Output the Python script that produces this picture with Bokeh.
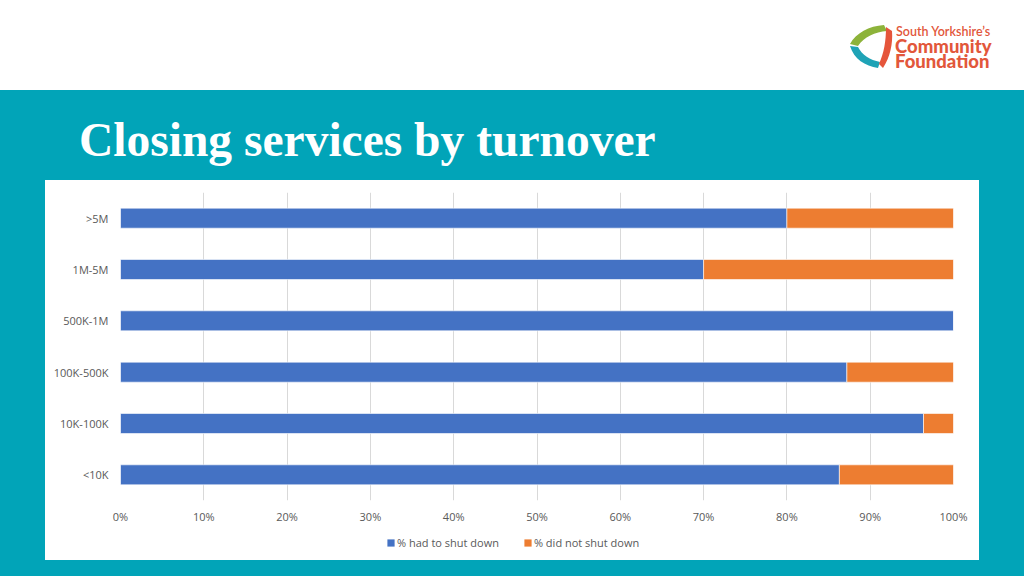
from bokeh.plotting import figure
from bokeh.models import (Range1d, FactorRange, Legend, LegendItem, FixedTicker,
                          Div, Spacer, ColumnDataSource)
from bokeh.layouts import column, row
from bokeh.embed import file_html
from bokeh.resources import INLINE

# ---------------- data ----------------
categories = ["<10K", "10K-100K", "100K-500K", "500K-1M", "1M-5M", ">5M"]
had_to_shut = [86.3, 96.4, 87.2, 100.0, 70.0, 80.0]
did_not_shut = [13.7, 3.6, 12.8, 0.0, 30.0, 20.0]
series_names = ["% had to shut down", "% did not shut down"]
tick_values = [0, 10, 20, 30, 40, 50, 60, 70, 80, 90, 100]
tick_labels = ["0%", "10%", "20%", "30%", "40%", "50%", "60%", "70%", "80%", "90%", "100%"]
title_text = "Closing services by turnover"
logo_lines = ["South Yorkshire\u2019s", "Community", "Foundation"]

# ---------------- styles ----------------
TEAL = "#01A4B8"
BLUE = "#4472C4"
ORANGE = "#ED7D31"
GREY = "#595959"
LOGO = "#E2573B"
FONT = "Open Sans"
COLORS = [BLUE, ORANGE]

src = ColumnDataSource(dict(cat=categories, had=had_to_shut, nots=did_not_shut))

# ---------------- main chart ----------------
p = figure(width=934, height=348, y_range=FactorRange(factors=categories),
           x_range=Range1d(0, 100), output_backend="svg", toolbar_location=None,
           min_border_left=75, min_border_right=26, min_border_top=12,
           min_border_bottom=28)
p.border_fill_color = "white"
p.background_fill_color = "white"
p.outline_line_color = None

rs = p.hbar_stack(["had", "nots"], y="cat", height=0.39, color=COLORS,
                  line_color="white", line_width=0.6, source=src)

p.xaxis.ticker = FixedTicker(ticks=tick_values)
p.xaxis.major_label_overrides = {v: l for v, l in zip(tick_values, tick_labels)}
for ax in (p.xaxis, p.yaxis):
    ax.axis_line_color = None
    ax.major_tick_line_color = None
    ax.minor_tick_line_color = None
    ax.major_label_text_font = FONT
    ax.major_label_text_font_size = "11px"
    ax.major_label_text_color = GREY
p.xaxis.major_label_standoff = 2
p.yaxis.major_label_standoff = 6

p.xgrid.grid_line_color = "#D9D9D9"
p.xgrid.grid_line_width = 1
p.ygrid.grid_line_color = None

# ---------------- legend strip (below the chart, inside the white panel) ----------------
lg = figure(width=934, height=32, x_range=Range1d(0, 1), y_range=Range1d(0, 1),
            output_backend="svg", toolbar_location=None, min_border=0,
            x_axis_type=None, y_axis_type=None)
lg.border_fill_color = "white"
lg.background_fill_color = "white"
lg.outline_line_color = None
lg.grid.visible = False
# zero-size key renderers: only their legend swatches are visible
key_renderers = [lg.hbar(y=[0], left=[0], right=[0], height=0, fill_color=c, line_color=None)
                 for c in COLORS]

legend = Legend(items=[LegendItem(label=n, renderers=[r])
                       for n, r in zip(series_names, key_renderers)],
                orientation="horizontal", location=(266, 10),
                glyph_width=9, glyph_height=9, label_standoff=2, spacing=24,
                label_height=14, label_text_font=FONT, label_text_font_size="11px",
                label_text_color=GREY, border_line_color=None,
                background_fill_alpha=0, margin=0, padding=0)
lg.add_layout(legend)

# ---------------- header with logo ----------------
icon_svg = (
    '<svg width="44" height="46" viewBox="0 0 44 46" '
    'style="position:absolute;left:849px;top:23px">'
    '<path d="M1,21 C7,10 20,3 35,2 L38,8 C26,9 15,14 9,23 Z" fill="#8DB33A"/>'
    '<path d="M1,23 L9,24 C13,32 21,37 31,39 L29,45 C16,43 5,36 1,23 Z" fill="#1FA3B6"/>'
    '<path d="M37,4 L43,8 C44,21 41,34 34,45 L30,41 C35,30 37,18 37,4 Z" fill="#E5553B"/>'
    '</svg>'
)
header_html = (
    '<div style="position:relative;width:1024px;height:90px;background:white;">'
    + icon_svg +
    f'<div style="position:absolute;left:896px;top:25px;font-family:Lato;font-weight:600;'
    f'font-size:12.5px;line-height:13px;color:{LOGO};white-space:nowrap">{logo_lines[0]}</div>'
    f'<div style="position:absolute;left:895px;top:39px;font-family:Lato;font-weight:900;'
    f'font-size:18.5px;line-height:15px;color:{LOGO};white-space:nowrap">{logo_lines[1]}</div>'
    f'<div style="position:absolute;left:895px;top:54px;font-family:Lato;font-weight:900;'
    f'font-size:18.5px;line-height:15px;color:{LOGO};white-space:nowrap">{logo_lines[2]}</div>'
    '</div>'
)
header = Div(text=header_html, width=1024, height=90, margin=0,
             styles={"background-color": "white", "overflow": "hidden"})

title_html = (
    '<div style="position:relative;width:1024px;height:90px;">'
    '<div style="position:absolute;left:79px;top:24px;font-family:\'Liberation Serif\';'
    'font-weight:bold;font-size:47.5px;line-height:52px;color:white;white-space:nowrap">'
    f'{title_text}</div></div>'
)
title_div = Div(text=title_html, width=1024, height=90, margin=0,
                styles={"overflow": "hidden"})

panel = column(children=[p, lg], width=934, height=380, styles={"background-color": "white"})
body = column(children=[title_div,
                        row(children=[Spacer(width=45, height=380, margin=0), panel])],
              width=1024, height=486, styles={"background-color": TEAL})
root = column(children=[header, body], width=1024, height=576)

open("out.html", "w").write(file_html(root, INLINE))
